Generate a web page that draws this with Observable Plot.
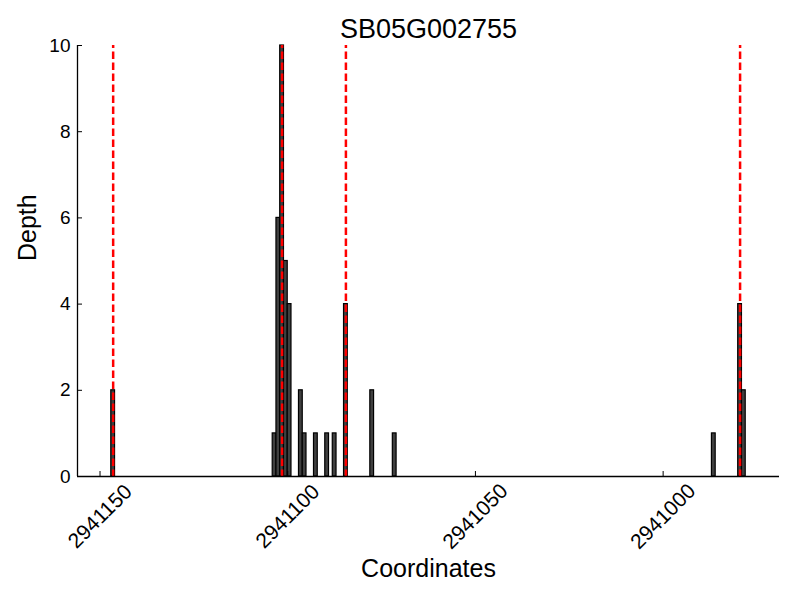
<!DOCTYPE html>
<html>
<head>
<meta charset="utf-8">
<script src="https://cdn.jsdelivr.net/npm/d3@7"></script>
<script src="https://cdn.jsdelivr.net/npm/@observablehq/plot@0.6"></script>
<style>
  html, body { margin: 0; padding: 0; background: white; }
</style>
</head>
<body>
<div id="chart"></div>
<script>
// Data
const title = "SB05G002755";
const positions = [2941146, 2941103, 2941102, 2941101, 2941100, 2941099, 2941096, 2941095,
                   2941092, 2941089, 2941087, 2941084, 2941077, 2941071, 2940986, 2940979, 2940978];
const depths    = [2, 1, 6, 10, 5, 4, 2, 1, 1, 1, 1, 4, 2, 1, 1, 4, 2];
const markers = [2941146, 2941101, 2941084, 2940979];
const xTicks = [2941150, 2941100, 2941050, 2941000];
const yTicks = [0, 2, 4, 6, 8, 10];
const xDomain = [2941156, 2940969];
const yDomain = [0, 10];

const bars = positions.map((p, i) => ({pos: p, depth: depths[i]}));

const chart = Plot.plot({
  width: 800,
  height: 600,
  marginLeft: 77,
  marginRight: 21,
  marginTop: 45,
  marginBottom: 124,
  style: {fontFamily: "'Liberation Sans', Arial, sans-serif", background: "white", color: "black", overflow: "visible"},
  x: {domain: xDomain, axis: null},
  y: {domain: yDomain, axis: null},
  marks: [
    Plot.rectY(bars, {x1: "pos", x2: d => d.pos + 1, y: "depth", fill: "#404040", stroke: "black", strokeWidth: 1.2}),
    Plot.ruleX(markers, {x: d => d + 0.5, y1: 0, y2: 10, stroke: "#ff0000", strokeWidth: 2.5, strokeDasharray: "7.5,3.5", strokeDashoffset: 1}),
    Plot.ruleY([yDomain[0]], {stroke: "black", strokeWidth: 1.3}),
    Plot.ruleX([xDomain[0]], {stroke: "black", strokeWidth: 1.3}),
    Plot.axisX({ticks: xTicks, tickSize: -5, tickFormat: () => "", label: null, stroke: "black"}),
    Plot.axisY({ticks: yTicks, tickSize: -5, tickFormat: () => "", label: null, stroke: "black"}),
    Plot.text(xTicks, {x: d => d, text: d => String(d), frameAnchor: "bottom", lineAnchor: "middle", dy: 40, rotate: -45, fontSize: 21, fill: "black"}),
    Plot.text(yTicks, {y: d => d, text: d => String(d), frameAnchor: "left", lineAnchor: "middle", dx: -7, textAnchor: "end", fontSize: 19, fill: "black"}),
    Plot.text([title], {frameAnchor: "top", lineAnchor: "middle", dy: -16, fontSize: 27, fill: "black"}),
    Plot.text(["Coordinates"], {frameAnchor: "bottom", lineAnchor: "middle", dy: 92, fontSize: 25, fill: "black"}),
    Plot.text(["Depth"], {frameAnchor: "left", lineAnchor: "middle", dx: -50, rotate: -90, fontSize: 25, fill: "black"})
  ]
});
document.getElementById("chart").appendChild(chart);
</script>
</body>
</html>
